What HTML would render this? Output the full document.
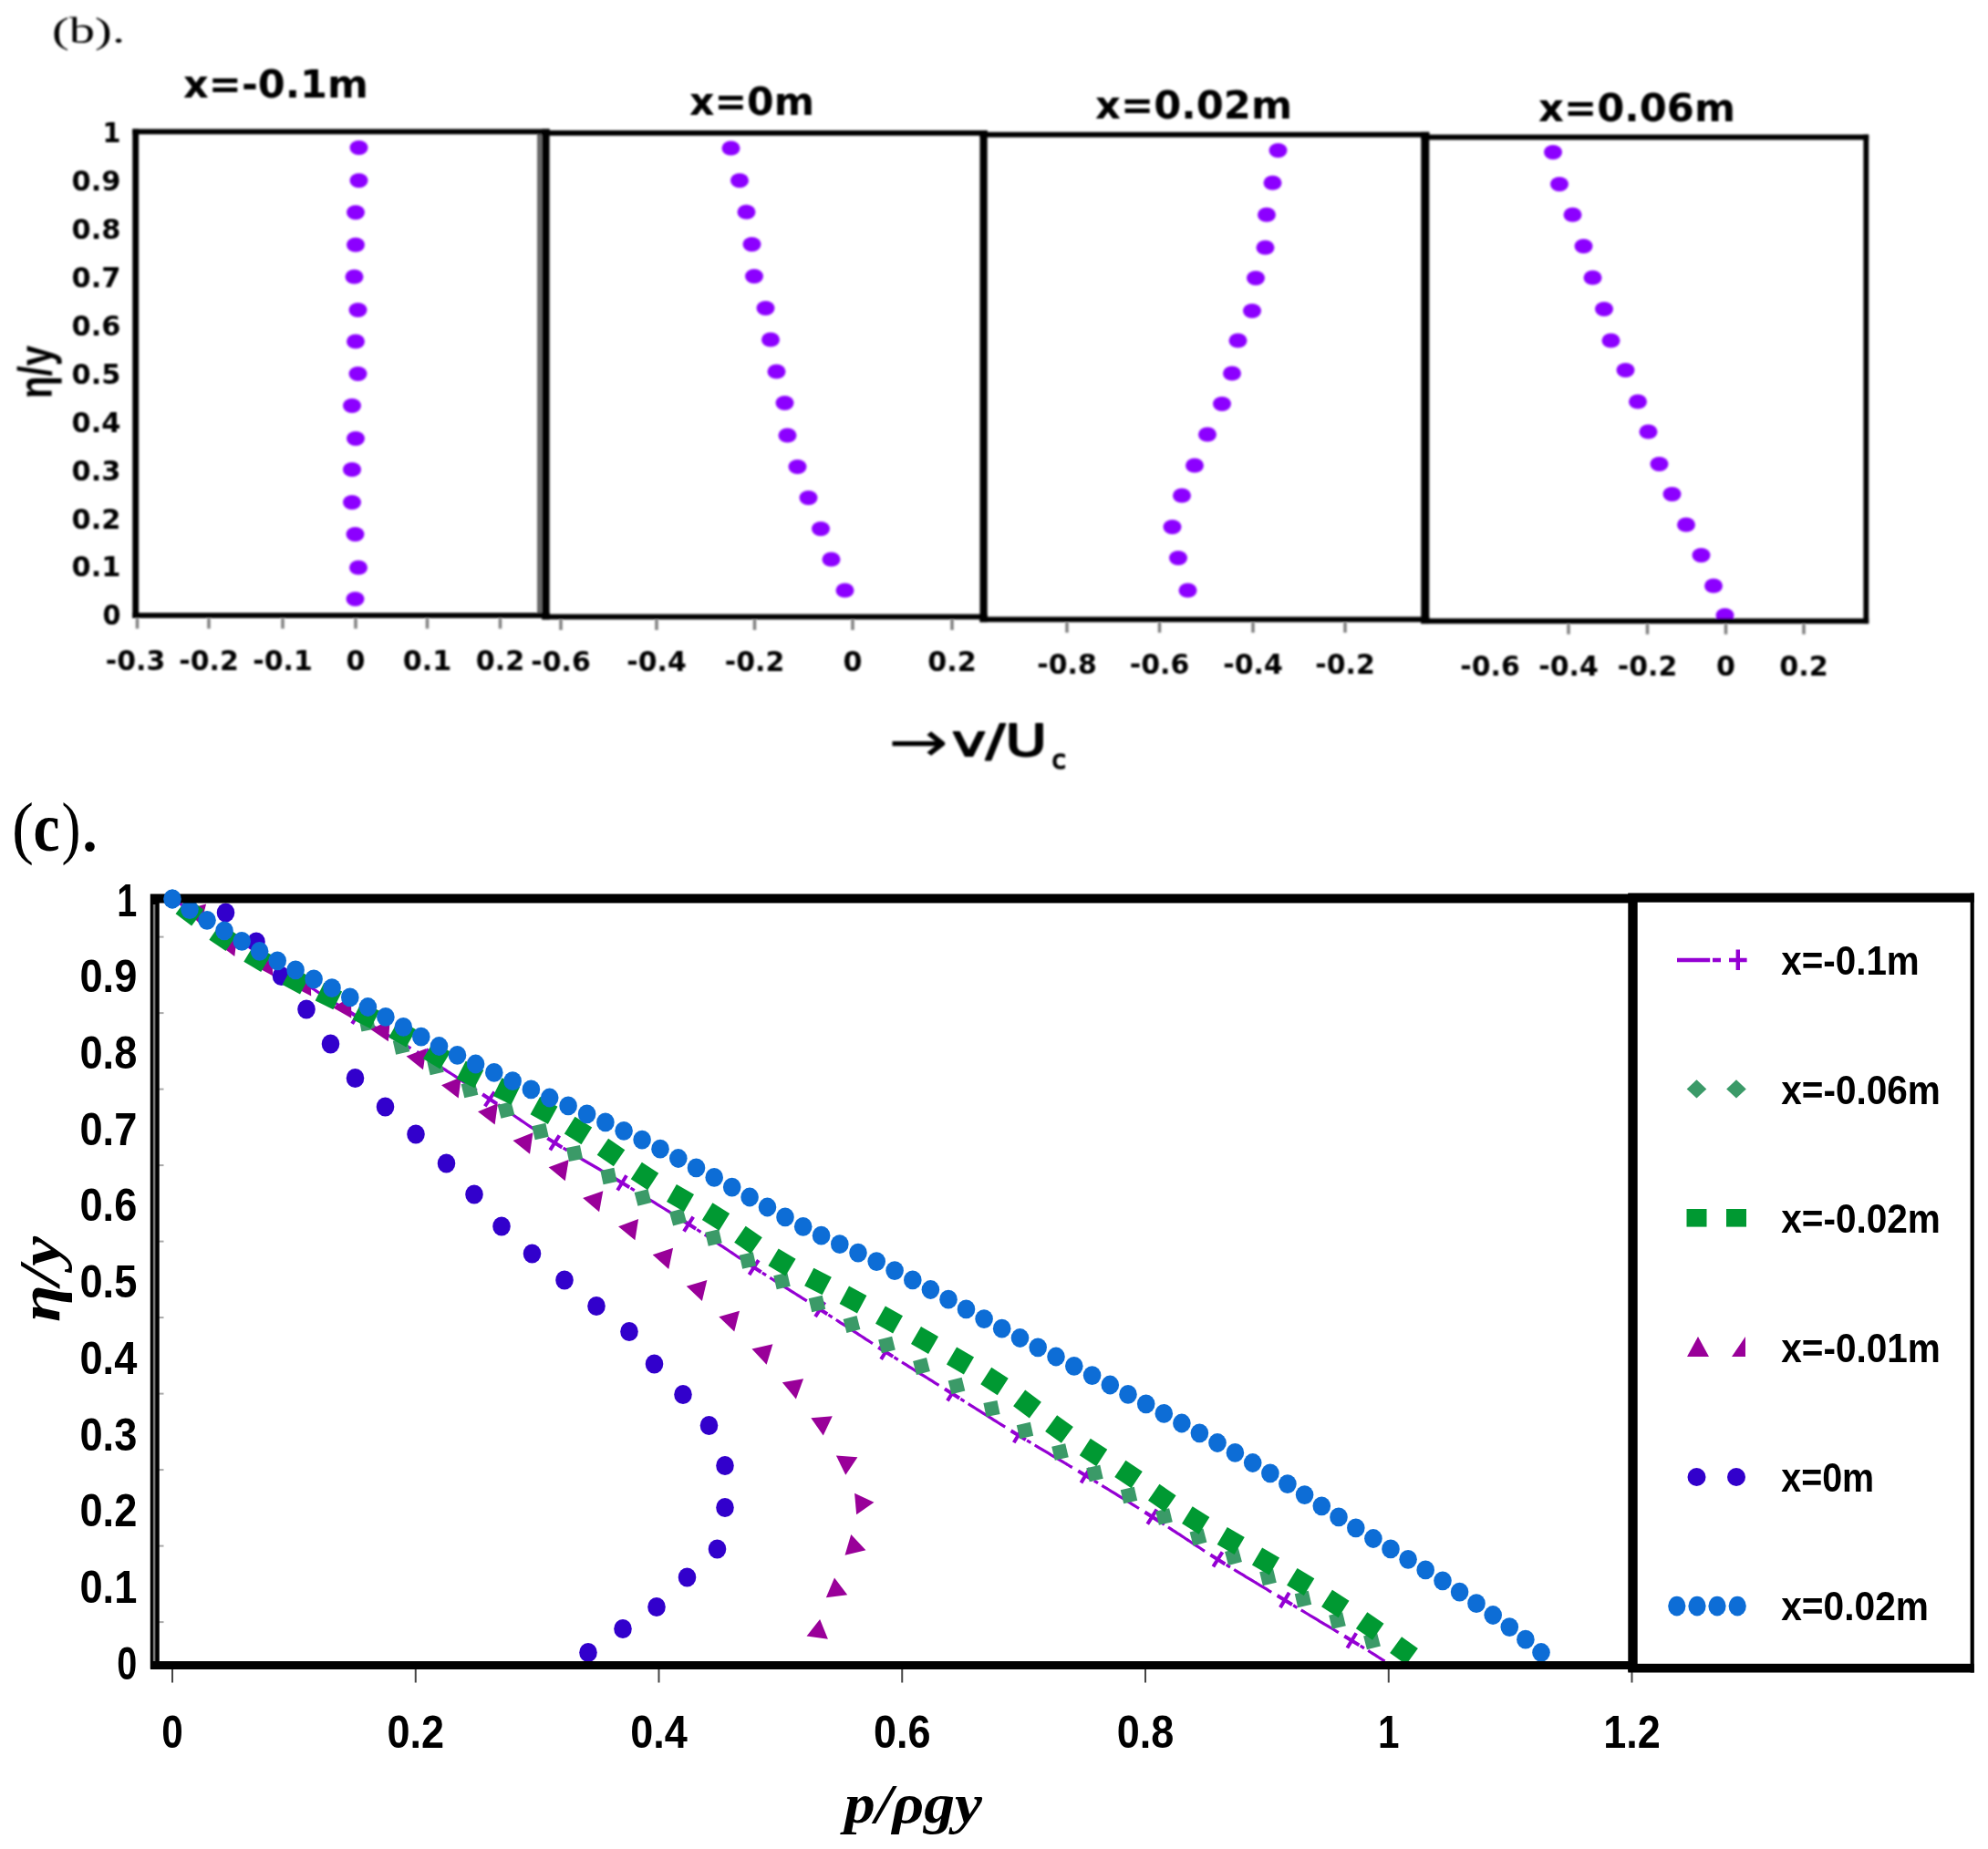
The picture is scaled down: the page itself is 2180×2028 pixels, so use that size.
<!DOCTYPE html>
<html><head><meta charset="utf-8"><title>Figure</title>
<style>html,body{margin:0;padding:0;background:#fff}svg{display:block}</style></head>
<body><svg width="2180" height="2028" viewBox="0 0 2180 2028">
<defs><filter id="blur1" x="-2%" y="-2%" width="104%" height="104%"><feGaussianBlur stdDeviation="1.2"/></filter><filter id="blur2" x="-2%" y="-2%" width="104%" height="104%"><feGaussianBlur stdDeviation="0.55"/></filter></defs>
<rect width="2180" height="2028" fill="#fff"/>
<g id="partb" filter="url(#blur1)">
<text x="57" y="46.5" font-family='"Liberation Serif", serif' font-size="40" font-weight="normal" font-style="normal" text-anchor="start" fill="#000" textLength="80" lengthAdjust="spacingAndGlyphs">(b).</text>
<ellipse cx="393.5" cy="162" rx="10" ry="8" fill="#8c00ff"/>
<ellipse cx="393.5" cy="198" rx="10" ry="8" fill="#8c00ff"/>
<ellipse cx="390" cy="233" rx="10" ry="8" fill="#8c00ff"/>
<ellipse cx="390" cy="268.5" rx="10" ry="8" fill="#8c00ff"/>
<ellipse cx="388.5" cy="303.5" rx="10" ry="8" fill="#8c00ff"/>
<ellipse cx="392.5" cy="340" rx="10" ry="8" fill="#8c00ff"/>
<ellipse cx="390" cy="374.5" rx="10" ry="8" fill="#8c00ff"/>
<ellipse cx="392.5" cy="410" rx="10" ry="8" fill="#8c00ff"/>
<ellipse cx="386" cy="445" rx="10" ry="8" fill="#8c00ff"/>
<ellipse cx="390" cy="481" rx="10" ry="8" fill="#8c00ff"/>
<ellipse cx="386" cy="515" rx="10" ry="8" fill="#8c00ff"/>
<ellipse cx="386" cy="551" rx="10" ry="8" fill="#8c00ff"/>
<ellipse cx="389.5" cy="586" rx="10" ry="8" fill="#8c00ff"/>
<ellipse cx="393" cy="622.5" rx="10" ry="8" fill="#8c00ff"/>
<ellipse cx="389.5" cy="657" rx="10" ry="8" fill="#8c00ff"/>
<ellipse cx="801.5" cy="162.5" rx="10" ry="8" fill="#8c00ff"/>
<ellipse cx="811" cy="198" rx="10" ry="8" fill="#8c00ff"/>
<ellipse cx="818.5" cy="232.5" rx="10" ry="8" fill="#8c00ff"/>
<ellipse cx="824.5" cy="268" rx="10" ry="8" fill="#8c00ff"/>
<ellipse cx="827" cy="303" rx="10" ry="8" fill="#8c00ff"/>
<ellipse cx="839.5" cy="338" rx="10" ry="8" fill="#8c00ff"/>
<ellipse cx="845" cy="372.5" rx="10" ry="8" fill="#8c00ff"/>
<ellipse cx="851.5" cy="407.5" rx="10" ry="8" fill="#8c00ff"/>
<ellipse cx="860.5" cy="442" rx="10" ry="8" fill="#8c00ff"/>
<ellipse cx="863.5" cy="477.5" rx="10" ry="8" fill="#8c00ff"/>
<ellipse cx="874.5" cy="512" rx="10" ry="8" fill="#8c00ff"/>
<ellipse cx="886.5" cy="546" rx="10" ry="8" fill="#8c00ff"/>
<ellipse cx="900" cy="580" rx="10" ry="8" fill="#8c00ff"/>
<ellipse cx="911.5" cy="613.5" rx="10" ry="8" fill="#8c00ff"/>
<ellipse cx="926.5" cy="647.5" rx="10" ry="8" fill="#8c00ff"/>
<ellipse cx="1401.5" cy="165" rx="10" ry="8" fill="#8c00ff"/>
<ellipse cx="1395.5" cy="200.5" rx="10" ry="8" fill="#8c00ff"/>
<ellipse cx="1389" cy="235.5" rx="10" ry="8" fill="#8c00ff"/>
<ellipse cx="1387.5" cy="271.5" rx="10" ry="8" fill="#8c00ff"/>
<ellipse cx="1377" cy="305" rx="10" ry="8" fill="#8c00ff"/>
<ellipse cx="1373" cy="341" rx="10" ry="8" fill="#8c00ff"/>
<ellipse cx="1357.5" cy="373.5" rx="10" ry="8" fill="#8c00ff"/>
<ellipse cx="1351" cy="409.5" rx="10" ry="8" fill="#8c00ff"/>
<ellipse cx="1340" cy="443" rx="10" ry="8" fill="#8c00ff"/>
<ellipse cx="1324" cy="476.5" rx="10" ry="8" fill="#8c00ff"/>
<ellipse cx="1310" cy="510.5" rx="10" ry="8" fill="#8c00ff"/>
<ellipse cx="1296" cy="543.5" rx="10" ry="8" fill="#8c00ff"/>
<ellipse cx="1285.5" cy="578" rx="10" ry="8" fill="#8c00ff"/>
<ellipse cx="1292" cy="612" rx="10" ry="8" fill="#8c00ff"/>
<ellipse cx="1302.5" cy="647.5" rx="10" ry="8" fill="#8c00ff"/>
<ellipse cx="1703" cy="167" rx="10" ry="8" fill="#8c00ff"/>
<ellipse cx="1710" cy="202" rx="10" ry="8" fill="#8c00ff"/>
<ellipse cx="1724.5" cy="235.5" rx="10" ry="8" fill="#8c00ff"/>
<ellipse cx="1736.5" cy="270" rx="10" ry="8" fill="#8c00ff"/>
<ellipse cx="1746.5" cy="304.5" rx="10" ry="8" fill="#8c00ff"/>
<ellipse cx="1759" cy="339" rx="10" ry="8" fill="#8c00ff"/>
<ellipse cx="1766.5" cy="373.5" rx="10" ry="8" fill="#8c00ff"/>
<ellipse cx="1782.5" cy="406" rx="10" ry="8" fill="#8c00ff"/>
<ellipse cx="1796" cy="440.5" rx="10" ry="8" fill="#8c00ff"/>
<ellipse cx="1807.5" cy="473.5" rx="10" ry="8" fill="#8c00ff"/>
<ellipse cx="1819.5" cy="509" rx="10" ry="8" fill="#8c00ff"/>
<ellipse cx="1833.5" cy="542" rx="10" ry="8" fill="#8c00ff"/>
<ellipse cx="1849" cy="575.5" rx="10" ry="8" fill="#8c00ff"/>
<ellipse cx="1865.5" cy="609" rx="10" ry="8" fill="#8c00ff"/>
<ellipse cx="1879" cy="642.5" rx="10" ry="8" fill="#8c00ff"/>
<ellipse cx="1891.5" cy="675" rx="10" ry="8" fill="#8c00ff"/>
<rect x="589" y="144" width="5.6" height="532" fill="#686868"/>
<rect x="145.3" y="141.5" width="457.3" height="5.8" fill="#000"/>
<rect x="145.3" y="672.1" width="457.3" height="5.8" fill="#000"/>
<rect x="594.3" y="143.0" width="488.4000000000001" height="5.8" fill="#000"/>
<rect x="594.3" y="673.6" width="488.4000000000001" height="5.8" fill="#000"/>
<rect x="1074.5" y="144.79999999999998" width="492.79999999999995" height="5.8" fill="#000"/>
<rect x="1074.5" y="676.5" width="492.79999999999995" height="5.8" fill="#000"/>
<rect x="1558.3" y="147.6" width="490.89999999999986" height="5.8" fill="#000"/>
<rect x="1558.3" y="678.3000000000001" width="490.89999999999986" height="5.8" fill="#000"/>
<rect x="145.3" y="141.5" width="6.799999999999983" height="536.4" fill="#000"/>
<rect x="594.3" y="141.5" width="8.300000000000068" height="537.9" fill="#000"/>
<rect x="1074.5" y="143.0" width="8.200000000000045" height="539.3" fill="#000"/>
<rect x="1558.3" y="144.79999999999998" width="9.0" height="539.3" fill="#000"/>
<rect x="2043.4" y="147.6" width="5.799999999999727" height="536.5" fill="#000"/>
<text x="201" y="106.5" font-family='"DejaVu Sans", "Liberation Sans", sans-serif' font-size="42" font-weight="bold" font-style="normal" text-anchor="start" fill="#000" textLength="203" lengthAdjust="spacingAndGlyphs">x=-0.1m</text>
<text x="756" y="126" font-family='"DejaVu Sans", "Liberation Sans", sans-serif' font-size="42" font-weight="bold" font-style="normal" text-anchor="start" fill="#000" textLength="137" lengthAdjust="spacingAndGlyphs">x=0m</text>
<text x="1201" y="130" font-family='"DejaVu Sans", "Liberation Sans", sans-serif' font-size="42" font-weight="bold" font-style="normal" text-anchor="start" fill="#000" textLength="216" lengthAdjust="spacingAndGlyphs">x=0.02m</text>
<text x="1687" y="132.5" font-family='"DejaVu Sans", "Liberation Sans", sans-serif' font-size="42" font-weight="bold" font-style="normal" text-anchor="start" fill="#000" textLength="216" lengthAdjust="spacingAndGlyphs">x=0.06m</text>
<text x="132.5" y="156.3" font-family='"DejaVu Sans", "Liberation Sans", sans-serif' font-size="30" font-weight="bold" font-style="normal" text-anchor="end" fill="#000" textLength="20" lengthAdjust="spacingAndGlyphs">1</text>
<text x="132.5" y="209.20000000000002" font-family='"DejaVu Sans", "Liberation Sans", sans-serif' font-size="30" font-weight="bold" font-style="normal" text-anchor="end" fill="#000" textLength="54" lengthAdjust="spacingAndGlyphs">0.9</text>
<text x="132.5" y="262.1" font-family='"DejaVu Sans", "Liberation Sans", sans-serif' font-size="30" font-weight="bold" font-style="normal" text-anchor="end" fill="#000" textLength="54" lengthAdjust="spacingAndGlyphs">0.8</text>
<text x="132.5" y="315.0" font-family='"DejaVu Sans", "Liberation Sans", sans-serif' font-size="30" font-weight="bold" font-style="normal" text-anchor="end" fill="#000" textLength="54" lengthAdjust="spacingAndGlyphs">0.7</text>
<text x="132.5" y="367.9" font-family='"DejaVu Sans", "Liberation Sans", sans-serif' font-size="30" font-weight="bold" font-style="normal" text-anchor="end" fill="#000" textLength="54" lengthAdjust="spacingAndGlyphs">0.6</text>
<text x="132.5" y="420.8" font-family='"DejaVu Sans", "Liberation Sans", sans-serif' font-size="30" font-weight="bold" font-style="normal" text-anchor="end" fill="#000" textLength="54" lengthAdjust="spacingAndGlyphs">0.5</text>
<text x="132.5" y="473.7" font-family='"DejaVu Sans", "Liberation Sans", sans-serif' font-size="30" font-weight="bold" font-style="normal" text-anchor="end" fill="#000" textLength="54" lengthAdjust="spacingAndGlyphs">0.4</text>
<text x="132.5" y="526.6" font-family='"DejaVu Sans", "Liberation Sans", sans-serif' font-size="30" font-weight="bold" font-style="normal" text-anchor="end" fill="#000" textLength="54" lengthAdjust="spacingAndGlyphs">0.3</text>
<text x="132.5" y="579.5" font-family='"DejaVu Sans", "Liberation Sans", sans-serif' font-size="30" font-weight="bold" font-style="normal" text-anchor="end" fill="#000" textLength="54" lengthAdjust="spacingAndGlyphs">0.2</text>
<text x="132.5" y="632.4" font-family='"DejaVu Sans", "Liberation Sans", sans-serif' font-size="30" font-weight="bold" font-style="normal" text-anchor="end" fill="#000" textLength="54" lengthAdjust="spacingAndGlyphs">0.1</text>
<text x="132.5" y="685.3" font-family='"DejaVu Sans", "Liberation Sans", sans-serif' font-size="30" font-weight="bold" font-style="normal" text-anchor="end" fill="#000" textLength="20" lengthAdjust="spacingAndGlyphs">0</text>
<g transform="translate(56.6,408) rotate(-90)">
<text x="0" y="0" font-family='"Liberation Sans", sans-serif' font-size="52" font-weight="bold" font-style="normal" text-anchor="middle" fill="#000" textLength="58" lengthAdjust="spacingAndGlyphs">η/y</text>
</g>
<text x="148.5" y="735" font-family='"DejaVu Sans", "Liberation Sans", sans-serif' font-size="30" font-weight="bold" font-style="normal" text-anchor="middle" fill="#000" textLength="65.5" lengthAdjust="spacingAndGlyphs">-0.3</text>
<rect x="148.75" y="678.5" width="3.5" height="11" fill="#808080"/>
<text x="229" y="735" font-family='"DejaVu Sans", "Liberation Sans", sans-serif' font-size="30" font-weight="bold" font-style="normal" text-anchor="middle" fill="#000" textLength="65.5" lengthAdjust="spacingAndGlyphs">-0.2</text>
<rect x="227.25" y="678.5" width="3.5" height="11" fill="#808080"/>
<text x="310" y="735" font-family='"DejaVu Sans", "Liberation Sans", sans-serif' font-size="30" font-weight="bold" font-style="normal" text-anchor="middle" fill="#000" textLength="65.5" lengthAdjust="spacingAndGlyphs">-0.1</text>
<rect x="308.25" y="678.5" width="3.5" height="11" fill="#808080"/>
<text x="390" y="735" font-family='"DejaVu Sans", "Liberation Sans", sans-serif' font-size="30" font-weight="bold" font-style="normal" text-anchor="middle" fill="#000" textLength="21" lengthAdjust="spacingAndGlyphs">0</text>
<rect x="388.25" y="678.5" width="3.5" height="11" fill="#808080"/>
<text x="468.5" y="735" font-family='"DejaVu Sans", "Liberation Sans", sans-serif' font-size="30" font-weight="bold" font-style="normal" text-anchor="middle" fill="#000" textLength="53.5" lengthAdjust="spacingAndGlyphs">0.1</text>
<rect x="466.75" y="678.5" width="3.5" height="11" fill="#808080"/>
<text x="548.5" y="735" font-family='"DejaVu Sans", "Liberation Sans", sans-serif' font-size="30" font-weight="bold" font-style="normal" text-anchor="middle" fill="#000" textLength="53.5" lengthAdjust="spacingAndGlyphs">0.2</text>
<rect x="546.75" y="678.5" width="3.5" height="11" fill="#808080"/>
<text x="615" y="736" font-family='"DejaVu Sans", "Liberation Sans", sans-serif' font-size="30" font-weight="bold" font-style="normal" text-anchor="middle" fill="#000" textLength="65.5" lengthAdjust="spacingAndGlyphs">-0.6</text>
<rect x="613.25" y="680.0" width="3.5" height="11" fill="#808080"/>
<text x="720" y="736" font-family='"DejaVu Sans", "Liberation Sans", sans-serif' font-size="30" font-weight="bold" font-style="normal" text-anchor="middle" fill="#000" textLength="65.5" lengthAdjust="spacingAndGlyphs">-0.4</text>
<rect x="718.25" y="680.0" width="3.5" height="11" fill="#808080"/>
<text x="827.5" y="736" font-family='"DejaVu Sans", "Liberation Sans", sans-serif' font-size="30" font-weight="bold" font-style="normal" text-anchor="middle" fill="#000" textLength="65.5" lengthAdjust="spacingAndGlyphs">-0.2</text>
<rect x="825.75" y="680.0" width="3.5" height="11" fill="#808080"/>
<text x="935" y="736" font-family='"DejaVu Sans", "Liberation Sans", sans-serif' font-size="30" font-weight="bold" font-style="normal" text-anchor="middle" fill="#000" textLength="21" lengthAdjust="spacingAndGlyphs">0</text>
<rect x="933.25" y="680.0" width="3.5" height="11" fill="#808080"/>
<text x="1044" y="736" font-family='"DejaVu Sans", "Liberation Sans", sans-serif' font-size="30" font-weight="bold" font-style="normal" text-anchor="middle" fill="#000" textLength="53.5" lengthAdjust="spacingAndGlyphs">0.2</text>
<rect x="1042.25" y="680.0" width="3.5" height="11" fill="#808080"/>
<text x="1170" y="739" font-family='"DejaVu Sans", "Liberation Sans", sans-serif' font-size="30" font-weight="bold" font-style="normal" text-anchor="middle" fill="#000" textLength="65.5" lengthAdjust="spacingAndGlyphs">-0.8</text>
<rect x="1168.25" y="682.9" width="3.5" height="11" fill="#808080"/>
<text x="1271.5" y="739" font-family='"DejaVu Sans", "Liberation Sans", sans-serif' font-size="30" font-weight="bold" font-style="normal" text-anchor="middle" fill="#000" textLength="65.5" lengthAdjust="spacingAndGlyphs">-0.6</text>
<rect x="1269.75" y="682.9" width="3.5" height="11" fill="#808080"/>
<text x="1374" y="739" font-family='"DejaVu Sans", "Liberation Sans", sans-serif' font-size="30" font-weight="bold" font-style="normal" text-anchor="middle" fill="#000" textLength="65.5" lengthAdjust="spacingAndGlyphs">-0.4</text>
<rect x="1372.25" y="682.9" width="3.5" height="11" fill="#808080"/>
<text x="1475" y="739" font-family='"DejaVu Sans", "Liberation Sans", sans-serif' font-size="30" font-weight="bold" font-style="normal" text-anchor="middle" fill="#000" textLength="65.5" lengthAdjust="spacingAndGlyphs">-0.2</text>
<rect x="1473.25" y="682.9" width="3.5" height="11" fill="#808080"/>
<text x="1634" y="740.5" font-family='"DejaVu Sans", "Liberation Sans", sans-serif' font-size="30" font-weight="bold" font-style="normal" text-anchor="middle" fill="#000" textLength="65.5" lengthAdjust="spacingAndGlyphs">-0.6</text>
<text x="1720" y="740.5" font-family='"DejaVu Sans", "Liberation Sans", sans-serif' font-size="30" font-weight="bold" font-style="normal" text-anchor="middle" fill="#000" textLength="65.5" lengthAdjust="spacingAndGlyphs">-0.4</text>
<rect x="1718.25" y="684.7" width="3.5" height="11" fill="#808080"/>
<text x="1806.5" y="740.5" font-family='"DejaVu Sans", "Liberation Sans", sans-serif' font-size="30" font-weight="bold" font-style="normal" text-anchor="middle" fill="#000" textLength="65.5" lengthAdjust="spacingAndGlyphs">-0.2</text>
<rect x="1804.75" y="684.7" width="3.5" height="11" fill="#808080"/>
<text x="1892.5" y="740.5" font-family='"DejaVu Sans", "Liberation Sans", sans-serif' font-size="30" font-weight="bold" font-style="normal" text-anchor="middle" fill="#000" textLength="21" lengthAdjust="spacingAndGlyphs">0</text>
<rect x="1890.75" y="684.7" width="3.5" height="11" fill="#808080"/>
<text x="1978" y="740.5" font-family='"DejaVu Sans", "Liberation Sans", sans-serif' font-size="30" font-weight="bold" font-style="normal" text-anchor="middle" fill="#000" textLength="53.5" lengthAdjust="spacingAndGlyphs">0.2</text>
<rect x="1976.25" y="684.7" width="3.5" height="11" fill="#808080"/>
<text x="974" y="834.5" font-family='"DejaVu Sans", "Liberation Sans", sans-serif' font-size="62" font-weight="normal" font-style="normal" text-anchor="start" fill="#000" textLength="66" lengthAdjust="spacingAndGlyphs">→</text>
<text x="1044" y="829" font-family='"DejaVu Sans", "Liberation Sans", sans-serif' font-size="48" font-weight="normal" font-style="normal" text-anchor="start" fill="#000" textLength="104" lengthAdjust="spacingAndGlyphs" stroke="#000" stroke-width="1.9" stroke-linejoin="round">v/U</text>
<text x="1153.5" y="843" font-family='"DejaVu Sans", "Liberation Sans", sans-serif' font-size="29" font-weight="normal" font-style="normal" text-anchor="start" fill="#000" textLength="15.5" lengthAdjust="spacingAndGlyphs" stroke="#000" stroke-width="1.6" stroke-linejoin="round">c</text>
</g>
<g id="partc" filter="url(#blur2)">
<text x="13" y="932.5" font-family='"Liberation Serif", serif' font-size="76" font-weight="normal" font-style="normal" text-anchor="start" fill="#000" textLength="24" lengthAdjust="spacingAndGlyphs">(</text>
<text x="36.5" y="932.5" font-family='"Liberation Serif", serif' font-size="76" font-weight="bold" font-style="normal" text-anchor="start" fill="#000" textLength="29" lengthAdjust="spacingAndGlyphs">c</text>
<text x="67.5" y="932.5" font-family='"Liberation Serif", serif' font-size="76" font-weight="normal" font-style="normal" text-anchor="start" fill="#000" textLength="21" lengthAdjust="spacingAndGlyphs">)</text>
<text x="87.3" y="932.5" font-family='"Liberation Serif", serif' font-size="90" font-weight="normal" font-style="normal" text-anchor="start" fill="#000">.</text>
<text x="150.3" y="1004.6" font-family='"Liberation Sans", sans-serif' font-size="50" font-weight="bold" font-style="normal" text-anchor="end" fill="#000" textLength="22" lengthAdjust="spacingAndGlyphs">1</text>
<text x="150.3" y="1088.3" font-family='"Liberation Sans", sans-serif' font-size="50" font-weight="bold" font-style="normal" text-anchor="end" fill="#000" textLength="62.8" lengthAdjust="spacingAndGlyphs">0.9</text>
<text x="150.3" y="1172.0" font-family='"Liberation Sans", sans-serif' font-size="50" font-weight="bold" font-style="normal" text-anchor="end" fill="#000" textLength="62.8" lengthAdjust="spacingAndGlyphs">0.8</text>
<text x="150.3" y="1255.7" font-family='"Liberation Sans", sans-serif' font-size="50" font-weight="bold" font-style="normal" text-anchor="end" fill="#000" textLength="62.8" lengthAdjust="spacingAndGlyphs">0.7</text>
<text x="150.3" y="1339.4" font-family='"Liberation Sans", sans-serif' font-size="50" font-weight="bold" font-style="normal" text-anchor="end" fill="#000" textLength="62.8" lengthAdjust="spacingAndGlyphs">0.6</text>
<text x="150.3" y="1423.1" font-family='"Liberation Sans", sans-serif' font-size="50" font-weight="bold" font-style="normal" text-anchor="end" fill="#000" textLength="62.8" lengthAdjust="spacingAndGlyphs">0.5</text>
<text x="150.3" y="1506.8000000000002" font-family='"Liberation Sans", sans-serif' font-size="50" font-weight="bold" font-style="normal" text-anchor="end" fill="#000" textLength="62.8" lengthAdjust="spacingAndGlyphs">0.4</text>
<text x="150.3" y="1590.5" font-family='"Liberation Sans", sans-serif' font-size="50" font-weight="bold" font-style="normal" text-anchor="end" fill="#000" textLength="62.8" lengthAdjust="spacingAndGlyphs">0.3</text>
<text x="150.3" y="1674.2" font-family='"Liberation Sans", sans-serif' font-size="50" font-weight="bold" font-style="normal" text-anchor="end" fill="#000" textLength="62.8" lengthAdjust="spacingAndGlyphs">0.2</text>
<text x="150.3" y="1757.9" font-family='"Liberation Sans", sans-serif' font-size="50" font-weight="bold" font-style="normal" text-anchor="end" fill="#000" textLength="62.8" lengthAdjust="spacingAndGlyphs">0.1</text>
<text x="150.3" y="1841.6" font-family='"Liberation Sans", sans-serif' font-size="50" font-weight="bold" font-style="normal" text-anchor="end" fill="#000" textLength="22" lengthAdjust="spacingAndGlyphs">0</text>
<text x="189.0" y="1916.7" font-family='"Liberation Sans", sans-serif' font-size="50" font-weight="bold" font-style="normal" text-anchor="middle" fill="#000" textLength="23.5" lengthAdjust="spacingAndGlyphs">0</text>
<rect x="188.0" y="1830" width="2" height="15.5" fill="#444"/>
<text x="455.75" y="1916.7" font-family='"Liberation Sans", sans-serif' font-size="50" font-weight="bold" font-style="normal" text-anchor="middle" fill="#000" textLength="62.6" lengthAdjust="spacingAndGlyphs">0.2</text>
<rect x="454.75" y="1830" width="2" height="15.5" fill="#444"/>
<text x="722.5" y="1916.7" font-family='"Liberation Sans", sans-serif' font-size="50" font-weight="bold" font-style="normal" text-anchor="middle" fill="#000" textLength="62.6" lengthAdjust="spacingAndGlyphs">0.4</text>
<rect x="721.5" y="1830" width="2" height="15.5" fill="#444"/>
<text x="989.25" y="1916.7" font-family='"Liberation Sans", sans-serif' font-size="50" font-weight="bold" font-style="normal" text-anchor="middle" fill="#000" textLength="62.6" lengthAdjust="spacingAndGlyphs">0.6</text>
<rect x="988.25" y="1830" width="2" height="15.5" fill="#444"/>
<text x="1256.0" y="1916.7" font-family='"Liberation Sans", sans-serif' font-size="50" font-weight="bold" font-style="normal" text-anchor="middle" fill="#000" textLength="62.6" lengthAdjust="spacingAndGlyphs">0.8</text>
<rect x="1255.0" y="1830" width="2" height="15.5" fill="#444"/>
<text x="1522.75" y="1916.7" font-family='"Liberation Sans", sans-serif' font-size="50" font-weight="bold" font-style="normal" text-anchor="middle" fill="#000" textLength="23.5" lengthAdjust="spacingAndGlyphs">1</text>
<rect x="1521.75" y="1830" width="2" height="15.5" fill="#444"/>
<text x="1789.5" y="1916.7" font-family='"Liberation Sans", sans-serif' font-size="50" font-weight="bold" font-style="normal" text-anchor="middle" fill="#000" textLength="62.6" lengthAdjust="spacingAndGlyphs">1.2</text>
<rect x="1788.5" y="1830" width="2" height="15.5" fill="#444"/>
<rect x="174" y="1026.6" width="5.5" height="2" fill="#aaa"/>
<rect x="174" y="1110.1" width="5.5" height="2" fill="#aaa"/>
<rect x="174" y="1193.6" width="5.5" height="2" fill="#aaa"/>
<rect x="174" y="1277.1" width="5.5" height="2" fill="#aaa"/>
<rect x="174" y="1360.6" width="5.5" height="2" fill="#aaa"/>
<rect x="174" y="1444.1" width="5.5" height="2" fill="#aaa"/>
<rect x="174" y="1527.6" width="5.5" height="2" fill="#aaa"/>
<rect x="174" y="1611.1" width="5.5" height="2" fill="#aaa"/>
<rect x="174" y="1694.6" width="5.5" height="2" fill="#aaa"/>
<rect x="174" y="1778.1" width="5.5" height="2" fill="#aaa"/>
<g transform="translate(65,1403) rotate(-90)">
<text x="0" y="0" font-family='"Liberation Serif", serif' font-size="63" font-weight="bold" font-style="italic" text-anchor="middle" fill="#000" textLength="94" lengthAdjust="spacingAndGlyphs">η/y</text>
</g>
<text x="1001.5" y="1999.4" font-family='"Liberation Serif", serif' font-size="61" font-weight="bold" font-style="italic" text-anchor="middle" fill="#000" textLength="151" lengthAdjust="spacingAndGlyphs">p/ρgy</text>
<path d="M191.6,987.6 L194.2,989.2 L196.7,990.7 L199.3,992.3 L201.9,993.8 L204.4,995.4 L207.0,996.9 L209.6,998.5 L212.1,1000.0 L214.7,1001.6 L217.3,1003.2 L219.8,1004.7 L222.4,1006.3 L225.0,1007.8 L227.5,1009.4 L230.1,1011.0 L232.5,1012.5 M256.1,1027.5 L258.6,1029.2 L260.3,1030.3 M264.5,1033.0 L267.0,1034.7 L269.5,1036.3 L272.0,1038.0 L274.5,1039.6 L277.0,1041.3 L279.5,1043.0 L282.0,1044.6 L284.5,1046.3 L287.0,1047.9 L289.5,1049.6 L292.0,1051.3 L294.5,1052.9 L297.0,1054.6 L299.5,1056.2 L302.0,1057.9 L304.4,1059.5 M327.9,1074.7 L330.4,1076.4 L332.1,1077.5 M336.3,1080.2 L338.8,1081.8 L341.3,1083.4 L343.9,1085.0 L346.4,1086.6 L348.9,1088.3 L351.4,1089.9 L354.0,1091.5 L356.5,1093.1 L359.0,1094.7 L361.6,1096.3 L364.1,1097.9 L366.6,1099.5 L369.2,1101.1 L371.7,1102.7 L374.3,1104.3 L376.7,1105.9 M400.5,1120.5 L403.1,1122.1 L404.8,1123.1 M409.1,1125.7 L411.7,1127.2 L414.3,1128.7 L416.9,1130.2 L419.5,1131.7 L422.1,1133.2 L424.7,1134.8 L427.3,1136.3 L429.9,1137.8 L432.5,1139.3 L435.0,1140.8 L437.6,1142.3 L440.2,1143.8 L442.8,1145.3 L445.4,1146.9 L448.0,1148.4 L450.5,1149.9 M474.3,1164.5 L476.8,1166.1 L478.5,1167.2 M482.7,1169.9 L485.3,1171.5 L487.8,1173.1 L490.3,1174.8 L492.8,1176.4 L495.3,1178.0 L497.9,1179.7 L500.4,1181.3 L502.9,1183.0 L505.4,1184.6 L507.9,1186.3 L510.4,1187.9 L512.9,1189.6 L515.4,1191.2 L517.9,1192.9 L520.4,1194.5 L522.8,1196.1 M546.1,1211.6 L548.6,1213.3 L550.3,1214.4 M554.4,1217.2 L556.9,1218.9 L559.4,1220.6 L561.9,1222.3 L564.3,1224.0 L566.8,1225.7 L569.3,1227.4 L571.7,1229.1 L574.2,1230.8 L576.7,1232.5 L579.2,1234.2 L581.7,1235.9 L584.1,1237.5 L586.6,1239.2 L589.1,1240.9 L591.6,1242.5 L594.0,1244.1 M617.6,1259.2 L620.2,1260.7 L621.9,1261.8 M626.2,1264.3 L628.8,1265.9 L631.4,1267.4 L634.0,1268.9 L636.5,1270.5 L639.1,1272.0 L641.7,1273.5 L644.3,1275.0 L646.9,1276.5 L649.5,1278.0 L652.1,1279.5 L654.7,1281.0 L657.3,1282.5 L659.9,1284.0 L662.5,1285.6 L665.0,1287.1 L667.5,1288.5 M691.5,1303.0 L694.1,1304.6 L695.8,1305.6 M700.0,1308.2 L702.6,1309.8 L705.2,1311.3 L707.7,1312.9 L710.3,1314.5 L712.8,1316.1 L715.4,1317.6 L717.9,1319.2 L720.5,1320.8 L723.0,1322.4 L725.6,1324.0 L728.1,1325.5 L730.7,1327.1 L733.2,1328.7 L735.8,1330.3 L738.3,1331.9 L740.8,1333.4 M764.3,1348.5 L766.8,1350.2 L768.5,1351.3 M772.7,1354.1 L775.2,1355.7 L777.7,1357.4 L780.2,1359.1 L782.6,1360.7 L785.1,1362.4 L787.6,1364.1 L790.1,1365.8 L792.6,1367.4 L795.1,1369.1 L797.6,1370.8 L800.1,1372.5 L802.6,1374.1 L805.0,1375.8 L807.5,1377.5 L810.0,1379.1 L812.4,1380.7 M835.9,1396.0 L838.4,1397.6 L840.1,1398.7 M844.3,1401.4 L846.9,1403.0 L849.4,1404.6 L851.9,1406.2 L854.5,1407.8 L857.0,1409.4 L859.6,1411.0 L862.1,1412.6 L864.6,1414.2 L867.2,1415.8 L869.7,1417.4 L872.3,1419.0 L874.8,1420.6 L877.3,1422.2 L879.9,1423.8 L882.4,1425.4 L884.8,1426.9 M908.4,1442.0 L910.9,1443.7 L912.6,1444.8 M916.8,1447.5 L919.3,1449.1 L921.8,1450.8 L924.3,1452.4 L926.9,1454.0 L929.4,1455.7 L931.9,1457.3 L934.4,1459.0 L936.9,1460.6 L939.4,1462.2 L941.9,1463.9 L944.5,1465.5 L947.0,1467.1 L949.5,1468.8 L952.0,1470.4 L954.5,1472.0 L956.9,1473.6 M980.5,1488.7 L983.1,1490.3 L984.8,1491.4 M989.0,1494.0 L991.5,1495.6 L994.1,1497.2 L996.6,1498.8 L999.2,1500.4 L1001.7,1502.0 L1004.2,1503.6 L1006.8,1505.2 L1009.3,1506.8 L1011.9,1508.4 L1014.4,1509.9 L1017.0,1511.5 L1019.5,1513.1 L1022.1,1514.7 L1024.6,1516.3 L1027.1,1517.9 L1029.6,1519.4 M1053.3,1534.3 L1055.8,1535.9 L1057.5,1537.0 M1061.8,1539.7 L1064.3,1541.3 L1066.8,1542.9 L1069.4,1544.5 L1071.9,1546.1 L1074.4,1547.7 L1077.0,1549.3 L1079.5,1550.9 L1082.0,1552.5 L1084.6,1554.1 L1087.1,1555.7 L1089.6,1557.3 L1092.2,1558.9 L1094.7,1560.5 L1097.3,1562.1 L1099.8,1563.7 L1102.2,1565.2 M1126.1,1579.9 L1128.7,1581.4 L1130.4,1582.5 M1134.7,1585.0 L1137.3,1586.6 L1139.8,1588.1 L1142.4,1589.6 L1145.0,1591.2 L1147.6,1592.7 L1150.1,1594.2 L1152.7,1595.8 L1155.3,1597.3 L1157.9,1598.8 L1160.5,1600.4 L1163.0,1601.9 L1165.6,1603.4 L1168.2,1605.0 L1170.8,1606.5 L1173.3,1608.1 L1175.8,1609.5 M1199.8,1624.1 L1202.3,1625.6 L1204.0,1626.7 M1208.3,1629.3 L1210.8,1630.9 L1213.4,1632.4 L1216.0,1634.0 L1218.5,1635.6 L1221.1,1637.1 L1223.6,1638.7 L1226.2,1640.3 L1228.7,1641.9 L1231.3,1643.4 L1233.8,1645.0 L1236.4,1646.6 L1238.9,1648.2 L1241.5,1649.8 L1244.0,1651.4 L1246.6,1653.0 L1249.0,1654.5 M1272.6,1669.5 L1275.2,1671.1 L1276.8,1672.2 M1281.0,1675.0 L1283.5,1676.6 L1286.0,1678.3 L1288.5,1679.9 L1291.0,1681.6 L1293.6,1683.2 L1296.1,1684.9 L1298.6,1686.5 L1301.1,1688.2 L1303.6,1689.8 L1306.1,1691.5 L1308.6,1693.1 L1311.1,1694.8 L1313.6,1696.4 L1316.1,1698.0 L1318.6,1699.7 L1321.0,1701.3 M1344.7,1716.2 L1347.2,1717.8 L1349.0,1718.9 M1353.2,1721.5 L1355.8,1723.1 L1358.3,1724.6 L1360.9,1726.2 L1363.5,1727.7 L1366.0,1729.3 L1368.6,1730.8 L1371.2,1732.4 L1373.7,1733.9 L1376.3,1735.5 L1378.9,1737.0 L1381.4,1738.6 L1384.0,1740.1 L1386.6,1741.7 L1389.2,1743.2 L1391.7,1744.8 L1394.2,1746.3 M1418.2,1760.7 L1420.7,1762.3 L1422.5,1763.3 M1426.7,1765.9 L1429.3,1767.4 L1431.9,1769.0 L1434.4,1770.5 L1437.0,1772.1 L1439.6,1773.6 L1442.2,1775.2 L1444.7,1776.7 L1447.3,1778.3 L1449.9,1779.8 L1452.4,1781.4 L1455.0,1782.9 L1457.6,1784.4 L1460.2,1786.0 L1462.7,1787.5 L1465.3,1789.1 L1467.8,1790.6 M1491.7,1805.2 L1494.2,1806.7 L1495.9,1807.8 M1500.2,1810.4 L1502.7,1812.0 L1505.2,1813.6 L1507.8,1815.2 L1510.3,1816.8 L1512.8,1818.5 L1515.4,1820.0 L1517.9,1821.6 L1518.5,1822.0" fill="none" stroke="#9400d3" stroke-width="3.2"/>
<g transform="translate(246.9,1021.6) rotate(32.6)"><path d="M-9.5,0H9.5M0,-9.5V9.5" stroke="#9400d3" stroke-width="4" fill="none"/></g>
<g transform="translate(318.7,1068.8) rotate(32.9)"><path d="M-9.5,0H9.5M0,-9.5V9.5" stroke="#9400d3" stroke-width="4" fill="none"/></g>
<g transform="translate(391.1,1114.8) rotate(31.6)"><path d="M-9.5,0H9.5M0,-9.5V9.5" stroke="#9400d3" stroke-width="4" fill="none"/></g>
<g transform="translate(465.0,1158.7) rotate(31.8)"><path d="M-9.5,0H9.5M0,-9.5V9.5" stroke="#9400d3" stroke-width="4" fill="none"/></g>
<g transform="translate(537.0,1205.5) rotate(33.5)"><path d="M-9.5,0H9.5M0,-9.5V9.5" stroke="#9400d3" stroke-width="4" fill="none"/></g>
<g transform="translate(608.3,1253.4) rotate(32.3)"><path d="M-9.5,0H9.5M0,-9.5V9.5" stroke="#9400d3" stroke-width="4" fill="none"/></g>
<g transform="translate(682.1,1297.3) rotate(31.3)"><path d="M-9.5,0H9.5M0,-9.5V9.5" stroke="#9400d3" stroke-width="4" fill="none"/></g>
<g transform="translate(755.1,1342.6) rotate(32.7)"><path d="M-9.5,0H9.5M0,-9.5V9.5" stroke="#9400d3" stroke-width="4" fill="none"/></g>
<g transform="translate(826.7,1390.1) rotate(32.9)"><path d="M-9.5,0H9.5M0,-9.5V9.5" stroke="#9400d3" stroke-width="4" fill="none"/></g>
<g transform="translate(899.2,1436.1) rotate(32.7)"><path d="M-9.5,0H9.5M0,-9.5V9.5" stroke="#9400d3" stroke-width="4" fill="none"/></g>
<g transform="translate(971.2,1482.8) rotate(32.5)"><path d="M-9.5,0H9.5M0,-9.5V9.5" stroke="#9400d3" stroke-width="4" fill="none"/></g>
<g transform="translate(1044.0,1528.4) rotate(32.2)"><path d="M-9.5,0H9.5M0,-9.5V9.5" stroke="#9400d3" stroke-width="4" fill="none"/></g>
<g transform="translate(1116.7,1574.2) rotate(31.4)"><path d="M-9.5,0H9.5M0,-9.5V9.5" stroke="#9400d3" stroke-width="4" fill="none"/></g>
<g transform="translate(1190.4,1618.3) rotate(31.4)"><path d="M-9.5,0H9.5M0,-9.5V9.5" stroke="#9400d3" stroke-width="4" fill="none"/></g>
<g transform="translate(1263.4,1663.6) rotate(32.5)"><path d="M-9.5,0H9.5M0,-9.5V9.5" stroke="#9400d3" stroke-width="4" fill="none"/></g>
<g transform="translate(1335.4,1710.4) rotate(32.2)"><path d="M-9.5,0H9.5M0,-9.5V9.5" stroke="#9400d3" stroke-width="4" fill="none"/></g>
<g transform="translate(1408.8,1755.0) rotate(31.2)"><path d="M-9.5,0H9.5M0,-9.5V9.5" stroke="#9400d3" stroke-width="4" fill="none"/></g>
<g transform="translate(1482.3,1799.4) rotate(31.4)"><path d="M-9.5,0H9.5M0,-9.5V9.5" stroke="#9400d3" stroke-width="4" fill="none"/></g>
<rect x="-7.7" y="-7.7" width="15.4" height="15.4" fill="#3a9a68" transform="translate(402.5,1122.5) rotate(78.7)"/>
<rect x="-7.7" y="-7.7" width="15.4" height="15.4" fill="#3a9a68" transform="translate(440,1147.5) rotate(77.3)"/>
<rect x="-7.7" y="-7.7" width="15.4" height="15.4" fill="#3a9a68" transform="translate(477.5,1170) rotate(77.3)"/>
<rect x="-7.7" y="-7.7" width="15.4" height="15.4" fill="#3a9a68" transform="translate(515,1195) rotate(76.5)"/>
<rect x="-7.7" y="-7.7" width="15.4" height="15.4" fill="#3a9a68" transform="translate(555,1217.5) rotate(75.7)"/>
<rect x="-7.7" y="-7.7" width="15.4" height="15.4" fill="#3a9a68" transform="translate(592.5,1241) rotate(77.3)"/>
<rect x="-7.7" y="-7.7" width="15.4" height="15.4" fill="#3a9a68" transform="translate(630,1265) rotate(78.2)"/>
<rect x="-7.7" y="-7.7" width="15.4" height="15.4" fill="#3a9a68" transform="translate(667.5,1290) rotate(77.9)"/>
<rect x="-7.7" y="-7.7" width="15.4" height="15.4" fill="#3a9a68" transform="translate(705,1313.5) rotate(75.6)"/>
<rect x="-7.7" y="-7.7" width="15.4" height="15.4" fill="#3a9a68" transform="translate(743.5,1335) rotate(74.6)"/>
<rect x="-7.7" y="-7.7" width="15.4" height="15.4" fill="#3a9a68" transform="translate(782.5,1357.5) rotate(76.8)"/>
<rect x="-7.7" y="-7.7" width="15.4" height="15.4" fill="#3a9a68" transform="translate(820,1382.5) rotate(77.3)"/>
<rect x="-7.7" y="-7.7" width="15.4" height="15.4" fill="#3a9a68" transform="translate(857.5,1405) rotate(77.0)"/>
<rect x="-7.7" y="-7.7" width="15.4" height="15.4" fill="#3a9a68" transform="translate(896,1430) rotate(76.8)"/>
<rect x="-7.7" y="-7.7" width="15.4" height="15.4" fill="#3a9a68" transform="translate(934,1452.5) rotate(75.5)"/>
<rect x="-7.7" y="-7.7" width="15.4" height="15.4" fill="#3a9a68" transform="translate(972.5,1475) rotate(76.0)"/>
<rect x="-7.7" y="-7.7" width="15.4" height="15.4" fill="#3a9a68" transform="translate(1010.5,1498.5) rotate(75.5)"/>
<rect x="-7.7" y="-7.7" width="15.4" height="15.4" fill="#3a9a68" transform="translate(1049,1520) rotate(76.1)"/>
<rect x="-7.7" y="-7.7" width="15.4" height="15.4" fill="#3a9a68" transform="translate(1087.5,1545) rotate(78.2)"/>
<rect x="-7.7" y="-7.7" width="15.4" height="15.4" fill="#3a9a68" transform="translate(1124,1569) rotate(77.3)"/>
<rect x="-7.7" y="-7.7" width="15.4" height="15.4" fill="#3a9a68" transform="translate(1162.5,1592.5) rotate(76.6)"/>
<rect x="-7.7" y="-7.7" width="15.4" height="15.4" fill="#3a9a68" transform="translate(1200.5,1616) rotate(77.2)"/>
<rect x="-7.7" y="-7.7" width="15.4" height="15.4" fill="#3a9a68" transform="translate(1238,1640) rotate(77.0)"/>
<rect x="-7.7" y="-7.7" width="15.4" height="15.4" fill="#3a9a68" transform="translate(1276.5,1663.5) rotate(76.2)"/>
<rect x="-7.7" y="-7.7" width="15.4" height="15.4" fill="#3a9a68" transform="translate(1314,1686) rotate(75.1)"/>
<rect x="-7.7" y="-7.7" width="15.4" height="15.4" fill="#3a9a68" transform="translate(1352.5,1707.5) rotate(74.9)"/>
<rect x="-7.7" y="-7.7" width="15.4" height="15.4" fill="#3a9a68" transform="translate(1390.5,1730) rotate(76.3)"/>
<rect x="-7.7" y="-7.7" width="15.4" height="15.4" fill="#3a9a68" transform="translate(1429,1754) rotate(77.0)"/>
<rect x="-7.7" y="-7.7" width="15.4" height="15.4" fill="#3a9a68" transform="translate(1466.5,1777.5) rotate(76.4)"/>
<rect x="-7.7" y="-7.7" width="15.4" height="15.4" fill="#3a9a68" transform="translate(1504.5,1800) rotate(75.6)"/>
<path d="M0,-13.6 L11.8,6.8 L-11.8,6.8 Z" fill="#990099" transform="translate(216.5,1001) rotate(45.0)"/>
<path d="M0,-13.6 L11.8,6.8 L-11.8,6.8 Z" fill="#990099" transform="translate(252,1036.5) rotate(37.4)"/>
<path d="M0,-13.6 L11.8,6.8 L-11.8,6.8 Z" fill="#990099" transform="translate(292,1058.7) rotate(28.5)"/>
<path d="M0,-13.6 L11.8,6.8 L-11.8,6.8 Z" fill="#990099" transform="translate(334,1081) rotate(28.2)"/>
<path d="M0,-13.6 L11.8,6.8 L-11.8,6.8 Z" fill="#990099" transform="translate(378.4,1105) rotate(29.7)"/>
<path d="M0,-13.6 L11.8,6.8 L-11.8,6.8 Z" fill="#990099" transform="translate(420,1130) rotate(34.6)"/>
<path d="M0,-13.6 L11.8,6.8 L-11.8,6.8 Z" fill="#990099" transform="translate(459,1160.5) rotate(38.7)"/>
<path d="M0,-13.6 L11.8,6.8 L-11.8,6.8 Z" fill="#990099" transform="translate(497.5,1192) rotate(37.6)"/>
<path d="M0,-13.6 L11.8,6.8 L-11.8,6.8 Z" fill="#990099" transform="translate(537.5,1221) rotate(37.8)"/>
<path d="M0,-13.6 L11.8,6.8 L-11.8,6.8 Z" fill="#990099" transform="translate(576,1253) rotate(38.4)"/>
<path d="M0,-13.6 L11.8,6.8 L-11.8,6.8 Z" fill="#990099" transform="translate(615,1282.5) rotate(39.7)"/>
<path d="M0,-13.6 L11.8,6.8 L-11.8,6.8 Z" fill="#990099" transform="translate(652.5,1316.5) rotate(40.4)"/>
<path d="M0,-13.6 L11.8,6.8 L-11.8,6.8 Z" fill="#990099" transform="translate(691.5,1347.5) rotate(39.2)"/>
<path d="M0,-13.6 L11.8,6.8 L-11.8,6.8 Z" fill="#990099" transform="translate(729,1379) rotate(41.8)"/>
<path d="M0,-13.6 L11.8,6.8 L-11.8,6.8 Z" fill="#990099" transform="translate(766,1414) rotate(43.4)"/>
<path d="M0,-13.6 L11.8,6.8 L-11.8,6.8 Z" fill="#990099" transform="translate(801.5,1447.5) rotate(44.2)"/>
<path d="M0,-13.6 L11.8,6.8 L-11.8,6.8 Z" fill="#990099" transform="translate(837.5,1483.5) rotate(46.8)"/>
<path d="M0,-13.6 L11.8,6.8 L-11.8,6.8 Z" fill="#990099" transform="translate(870.6,1521) rotate(50.4)"/>
<path d="M0,-13.6 L11.8,6.8 L-11.8,6.8 Z" fill="#990099" transform="translate(901.6,1561) rotate(55.3)"/>
<path d="M0,-13.6 L11.8,6.8 L-11.8,6.8 Z" fill="#990099" transform="translate(928.2,1604.2) rotate(63.8)"/>
<path d="M0,-13.6 L11.8,6.8 L-11.8,6.8 Z" fill="#990099" transform="translate(944.9,1649) rotate(84.9)"/>
<path d="M0,-13.6 L11.8,6.8 L-11.8,6.8 Z" fill="#990099" transform="translate(936.4,1696.3) rotate(106.5)"/>
<path d="M0,-13.6 L11.8,6.8 L-11.8,6.8 Z" fill="#990099" transform="translate(916.7,1744) rotate(112.8)"/>
<path d="M0,-13.6 L11.8,6.8 L-11.8,6.8 Z" fill="#990099" transform="translate(897.2,1789.4) rotate(128.0)"/>
<ellipse cx="247.5" cy="1001" rx="9.8" ry="10.5" fill="#3300cc"/>
<ellipse cx="281" cy="1033" rx="9.8" ry="10.5" fill="#3300cc"/>
<ellipse cx="308.5" cy="1070.5" rx="9.8" ry="10.5" fill="#3300cc"/>
<ellipse cx="336" cy="1107" rx="9.8" ry="10.5" fill="#3300cc"/>
<ellipse cx="362.5" cy="1145" rx="9.8" ry="10.5" fill="#3300cc"/>
<ellipse cx="389.5" cy="1182.5" rx="9.8" ry="10.5" fill="#3300cc"/>
<ellipse cx="422.5" cy="1214" rx="9.8" ry="10.5" fill="#3300cc"/>
<ellipse cx="456" cy="1244" rx="9.8" ry="10.5" fill="#3300cc"/>
<ellipse cx="489.5" cy="1276" rx="9.8" ry="10.5" fill="#3300cc"/>
<ellipse cx="520" cy="1310" rx="9.8" ry="10.5" fill="#3300cc"/>
<ellipse cx="550" cy="1345" rx="9.8" ry="10.5" fill="#3300cc"/>
<ellipse cx="583.5" cy="1375" rx="9.8" ry="10.5" fill="#3300cc"/>
<ellipse cx="619" cy="1404" rx="9.8" ry="10.5" fill="#3300cc"/>
<ellipse cx="654" cy="1432.5" rx="9.8" ry="10.5" fill="#3300cc"/>
<ellipse cx="690" cy="1460.5" rx="9.8" ry="10.5" fill="#3300cc"/>
<ellipse cx="717.5" cy="1496" rx="9.8" ry="10.5" fill="#3300cc"/>
<ellipse cx="749" cy="1529.5" rx="9.8" ry="10.5" fill="#3300cc"/>
<ellipse cx="777.5" cy="1563.5" rx="9.8" ry="10.5" fill="#3300cc"/>
<ellipse cx="795" cy="1607.5" rx="9.8" ry="10.5" fill="#3300cc"/>
<ellipse cx="795" cy="1653.5" rx="9.8" ry="10.5" fill="#3300cc"/>
<ellipse cx="786.5" cy="1699" rx="9.8" ry="10.5" fill="#3300cc"/>
<ellipse cx="753.5" cy="1730" rx="9.8" ry="10.5" fill="#3300cc"/>
<ellipse cx="720" cy="1762.5" rx="9.8" ry="10.5" fill="#3300cc"/>
<ellipse cx="683" cy="1786.5" rx="9.8" ry="10.5" fill="#3300cc"/>
<ellipse cx="645" cy="1812.5" rx="9.8" ry="10.5" fill="#3300cc"/>
<rect x="-11" y="-11" width="22" height="22" fill="#009933" transform="translate(208,1000) rotate(37.1)"/>
<rect x="-11" y="-11" width="22" height="22" fill="#009933" transform="translate(244.7,1027.8) rotate(34.4)"/>
<rect x="-11" y="-11" width="22" height="22" fill="#009933" transform="translate(282.4,1051) rotate(30.9)"/>
<rect x="-11" y="-11" width="22" height="22" fill="#009933" transform="translate(324.5,1075.5) rotate(28.0)"/>
<rect x="-11" y="-11" width="22" height="22" fill="#009933" transform="translate(360.4,1092.5) rotate(26.3)"/>
<rect x="-11" y="-11" width="22" height="22" fill="#009933" transform="translate(401.4,1113.5) rotate(26.9)"/>
<rect x="-11" y="-11" width="22" height="22" fill="#009933" transform="translate(441.3,1133.5) rotate(29.6)"/>
<rect x="-11" y="-11" width="22" height="22" fill="#009933" transform="translate(479,1157.5) rotate(31.2)"/>
<rect x="-11" y="-11" width="22" height="22" fill="#009933" transform="translate(515.5,1178.5) rotate(27.3)"/>
<rect x="-11" y="-11" width="22" height="22" fill="#009933" transform="translate(555.5,1197) rotate(26.0)"/>
<rect x="-11" y="-11" width="22" height="22" fill="#009933" transform="translate(596.5,1218) rotate(28.7)"/>
<rect x="-11" y="-11" width="22" height="22" fill="#009933" transform="translate(634.0,1240) rotate(32.0)"/>
<rect x="-11" y="-11" width="22" height="22" fill="#009933" transform="translate(670,1264) rotate(34.4)"/>
<rect x="-11" y="-11" width="22" height="22" fill="#009933" transform="translate(707,1290) rotate(33.3)"/>
<rect x="-11" y="-11" width="22" height="22" fill="#009933" transform="translate(746,1314) rotate(29.7)"/>
<rect x="-11" y="-11" width="22" height="22" fill="#009933" transform="translate(785,1334.5) rotate(31.7)"/>
<rect x="-11" y="-11" width="22" height="22" fill="#009933" transform="translate(820.5,1360) rotate(34.6)"/>
<rect x="-11" y="-11" width="22" height="22" fill="#009933" transform="translate(857.5,1384.5) rotate(30.7)"/>
<rect x="-11" y="-11" width="22" height="22" fill="#009933" transform="translate(897,1405.5) rotate(27.7)"/>
<rect x="-11" y="-11" width="22" height="22" fill="#009933" transform="translate(935.5,1425.5) rotate(28.3)"/>
<rect x="-11" y="-11" width="22" height="22" fill="#009933" transform="translate(975,1447.5) rotate(29.5)"/>
<rect x="-11" y="-11" width="22" height="22" fill="#009933" transform="translate(1014,1470) rotate(30.0)"/>
<rect x="-11" y="-11" width="22" height="22" fill="#009933" transform="translate(1053,1492.5) rotate(30.5)"/>
<rect x="-11" y="-11" width="22" height="22" fill="#009933" transform="translate(1090.5,1515) rotate(32.9)"/>
<rect x="-11" y="-11" width="22" height="22" fill="#009933" transform="translate(1126.5,1540) rotate(36.5)"/>
<rect x="-11" y="-11" width="22" height="22" fill="#009933" transform="translate(1161.5,1567.5) rotate(36.2)"/>
<rect x="-11" y="-11" width="22" height="22" fill="#009933" transform="translate(1199,1593) rotate(33.1)"/>
<rect x="-11" y="-11" width="22" height="22" fill="#009933" transform="translate(1237.5,1617) rotate(33.6)"/>
<rect x="-11" y="-11" width="22" height="22" fill="#009933" transform="translate(1274.3,1643) rotate(34.4)"/>
<rect x="-11" y="-11" width="22" height="22" fill="#009933" transform="translate(1311.2,1667.5) rotate(31.9)"/>
<rect x="-11" y="-11" width="22" height="22" fill="#009933" transform="translate(1349.7,1690) rotate(30.4)"/>
<rect x="-11" y="-11" width="22" height="22" fill="#009933" transform="translate(1388,1712.5) rotate(30.5)"/>
<rect x="-11" y="-11" width="22" height="22" fill="#009933" transform="translate(1426.2,1735) rotate(31.4)"/>
<rect x="-11" y="-11" width="22" height="22" fill="#009933" transform="translate(1464.3,1759) rotate(32.5)"/>
<rect x="-11" y="-11" width="22" height="22" fill="#009933" transform="translate(1502.2,1783.5) rotate(34.4)"/>
<rect x="-11" y="-11" width="22" height="22" fill="#009933" transform="translate(1539.5,1810.5) rotate(35.9)"/>
<ellipse cx="189.0" cy="986.0" rx="9.8" ry="10.4" fill="#0b6dd6"/>
<ellipse cx="208.0" cy="997.6" rx="9.8" ry="10.4" fill="#0b6dd6"/>
<ellipse cx="227.0" cy="1009.3" rx="9.8" ry="10.4" fill="#0b6dd6"/>
<ellipse cx="246.0" cy="1020.9" rx="9.8" ry="10.4" fill="#0b6dd6"/>
<ellipse cx="265.2" cy="1032.3" rx="9.8" ry="10.4" fill="#0b6dd6"/>
<ellipse cx="284.6" cy="1043.3" rx="9.8" ry="10.4" fill="#0b6dd6"/>
<ellipse cx="304.2" cy="1053.8" rx="9.8" ry="10.4" fill="#0b6dd6"/>
<ellipse cx="324.1" cy="1063.9" rx="9.8" ry="10.4" fill="#0b6dd6"/>
<ellipse cx="344.1" cy="1073.8" rx="9.8" ry="10.4" fill="#0b6dd6"/>
<ellipse cx="364.0" cy="1083.7" rx="9.8" ry="10.4" fill="#0b6dd6"/>
<ellipse cx="383.8" cy="1093.9" rx="9.8" ry="10.4" fill="#0b6dd6"/>
<ellipse cx="403.4" cy="1104.5" rx="9.8" ry="10.4" fill="#0b6dd6"/>
<ellipse cx="422.9" cy="1115.4" rx="9.8" ry="10.4" fill="#0b6dd6"/>
<ellipse cx="442.3" cy="1126.4" rx="9.8" ry="10.4" fill="#0b6dd6"/>
<ellipse cx="461.8" cy="1137.1" rx="9.8" ry="10.4" fill="#0b6dd6"/>
<ellipse cx="481.5" cy="1147.5" rx="9.8" ry="10.4" fill="#0b6dd6"/>
<ellipse cx="501.5" cy="1157.4" rx="9.8" ry="10.4" fill="#0b6dd6"/>
<ellipse cx="521.6" cy="1167.0" rx="9.8" ry="10.4" fill="#0b6dd6"/>
<ellipse cx="541.8" cy="1176.4" rx="9.8" ry="10.4" fill="#0b6dd6"/>
<ellipse cx="562.1" cy="1185.7" rx="9.8" ry="10.4" fill="#0b6dd6"/>
<ellipse cx="582.4" cy="1194.9" rx="9.8" ry="10.4" fill="#0b6dd6"/>
<ellipse cx="602.7" cy="1204.0" rx="9.8" ry="10.4" fill="#0b6dd6"/>
<ellipse cx="623.1" cy="1212.9" rx="9.8" ry="10.4" fill="#0b6dd6"/>
<ellipse cx="643.6" cy="1221.8" rx="9.8" ry="10.4" fill="#0b6dd6"/>
<ellipse cx="663.9" cy="1230.9" rx="9.8" ry="10.4" fill="#0b6dd6"/>
<ellipse cx="684.1" cy="1240.3" rx="9.8" ry="10.4" fill="#0b6dd6"/>
<ellipse cx="704.1" cy="1250.1" rx="9.8" ry="10.4" fill="#0b6dd6"/>
<ellipse cx="724.0" cy="1260.2" rx="9.8" ry="10.4" fill="#0b6dd6"/>
<ellipse cx="743.8" cy="1270.5" rx="9.8" ry="10.4" fill="#0b6dd6"/>
<ellipse cx="763.5" cy="1280.9" rx="9.8" ry="10.4" fill="#0b6dd6"/>
<ellipse cx="783.2" cy="1291.4" rx="9.8" ry="10.4" fill="#0b6dd6"/>
<ellipse cx="802.7" cy="1302.1" rx="9.8" ry="10.4" fill="#0b6dd6"/>
<ellipse cx="822.1" cy="1313.0" rx="9.8" ry="10.4" fill="#0b6dd6"/>
<ellipse cx="841.5" cy="1324.0" rx="9.8" ry="10.4" fill="#0b6dd6"/>
<ellipse cx="861.0" cy="1334.9" rx="9.8" ry="10.4" fill="#0b6dd6"/>
<ellipse cx="880.7" cy="1345.3" rx="9.8" ry="10.4" fill="#0b6dd6"/>
<ellipse cx="900.6" cy="1355.2" rx="9.8" ry="10.4" fill="#0b6dd6"/>
<ellipse cx="920.8" cy="1364.7" rx="9.8" ry="10.4" fill="#0b6dd6"/>
<ellipse cx="941.0" cy="1374.1" rx="9.8" ry="10.4" fill="#0b6dd6"/>
<ellipse cx="961.2" cy="1383.6" rx="9.8" ry="10.4" fill="#0b6dd6"/>
<ellipse cx="981.1" cy="1393.6" rx="9.8" ry="10.4" fill="#0b6dd6"/>
<ellipse cx="1000.8" cy="1403.9" rx="9.8" ry="10.4" fill="#0b6dd6"/>
<ellipse cx="1020.4" cy="1414.5" rx="9.8" ry="10.4" fill="#0b6dd6"/>
<ellipse cx="1040.0" cy="1425.2" rx="9.8" ry="10.4" fill="#0b6dd6"/>
<ellipse cx="1059.5" cy="1435.9" rx="9.8" ry="10.4" fill="#0b6dd6"/>
<ellipse cx="1079.1" cy="1446.6" rx="9.8" ry="10.4" fill="#0b6dd6"/>
<ellipse cx="1098.7" cy="1457.2" rx="9.8" ry="10.4" fill="#0b6dd6"/>
<ellipse cx="1118.5" cy="1467.5" rx="9.8" ry="10.4" fill="#0b6dd6"/>
<ellipse cx="1138.2" cy="1477.8" rx="9.8" ry="10.4" fill="#0b6dd6"/>
<ellipse cx="1158.0" cy="1488.0" rx="9.8" ry="10.4" fill="#0b6dd6"/>
<ellipse cx="1177.8" cy="1498.3" rx="9.8" ry="10.4" fill="#0b6dd6"/>
<ellipse cx="1197.6" cy="1508.6" rx="9.8" ry="10.4" fill="#0b6dd6"/>
<ellipse cx="1217.3" cy="1519.0" rx="9.8" ry="10.4" fill="#0b6dd6"/>
<ellipse cx="1237.0" cy="1529.4" rx="9.8" ry="10.4" fill="#0b6dd6"/>
<ellipse cx="1256.7" cy="1539.8" rx="9.8" ry="10.4" fill="#0b6dd6"/>
<ellipse cx="1276.3" cy="1550.4" rx="9.8" ry="10.4" fill="#0b6dd6"/>
<ellipse cx="1295.9" cy="1561.0" rx="9.8" ry="10.4" fill="#0b6dd6"/>
<ellipse cx="1315.4" cy="1571.8" rx="9.8" ry="10.4" fill="#0b6dd6"/>
<ellipse cx="1335.0" cy="1582.5" rx="9.8" ry="10.4" fill="#0b6dd6"/>
<ellipse cx="1354.4" cy="1593.4" rx="9.8" ry="10.4" fill="#0b6dd6"/>
<ellipse cx="1373.7" cy="1604.5" rx="9.8" ry="10.4" fill="#0b6dd6"/>
<ellipse cx="1392.9" cy="1615.9" rx="9.8" ry="10.4" fill="#0b6dd6"/>
<ellipse cx="1411.9" cy="1627.6" rx="9.8" ry="10.4" fill="#0b6dd6"/>
<ellipse cx="1430.6" cy="1639.6" rx="9.8" ry="10.4" fill="#0b6dd6"/>
<ellipse cx="1449.3" cy="1651.8" rx="9.8" ry="10.4" fill="#0b6dd6"/>
<ellipse cx="1468.0" cy="1663.9" rx="9.8" ry="10.4" fill="#0b6dd6"/>
<ellipse cx="1486.8" cy="1675.8" rx="9.8" ry="10.4" fill="#0b6dd6"/>
<ellipse cx="1505.9" cy="1687.5" rx="9.8" ry="10.4" fill="#0b6dd6"/>
<ellipse cx="1525.0" cy="1698.9" rx="9.8" ry="10.4" fill="#0b6dd6"/>
<ellipse cx="1544.1" cy="1710.3" rx="9.8" ry="10.4" fill="#0b6dd6"/>
<ellipse cx="1563.2" cy="1721.9" rx="9.8" ry="10.4" fill="#0b6dd6"/>
<ellipse cx="1582.0" cy="1733.8" rx="9.8" ry="10.4" fill="#0b6dd6"/>
<ellipse cx="1600.6" cy="1746.1" rx="9.8" ry="10.4" fill="#0b6dd6"/>
<ellipse cx="1619.0" cy="1758.7" rx="9.8" ry="10.4" fill="#0b6dd6"/>
<ellipse cx="1637.2" cy="1771.5" rx="9.8" ry="10.4" fill="#0b6dd6"/>
<ellipse cx="1655.3" cy="1784.6" rx="9.8" ry="10.4" fill="#0b6dd6"/>
<ellipse cx="1672.9" cy="1798.2" rx="9.8" ry="10.4" fill="#0b6dd6"/>
<ellipse cx="1690.0" cy="1812.5" rx="9.8" ry="10.4" fill="#0b6dd6"/>
<path d="M169.75,1830.5 V985.5 H1790.7" fill="none" stroke="#000" stroke-width="10" stroke-linejoin="miter"/>
<rect x="165" y="1822" width="1626" height="9" fill="#000"/>
<rect x="167.8" y="992" width="2.6" height="830" fill="#777"/>
<rect x="1785.3" y="980.3" width="10.4" height="853" fill="#000"/>
<rect x="1785.3" y="979.5" width="379.5" height="10.2" fill="#000"/>
<rect x="1785.3" y="1824.8" width="379.5" height="9.7" fill="#000"/>
<rect x="2160.6" y="979.5" width="4.2" height="855" fill="#000"/>
<ellipse cx="189.0" cy="986.0" rx="9.8" ry="10.4" fill="#0b6dd6"/>
<text x="1953.2" y="1069.2" font-family='"Liberation Sans", sans-serif' font-size="44" font-weight="bold" font-style="normal" text-anchor="start" fill="#000" textLength="151.6" lengthAdjust="spacingAndGlyphs">x=-0.1m</text>
<text x="1953.2" y="1210.7" font-family='"Liberation Sans", sans-serif' font-size="44" font-weight="bold" font-style="normal" text-anchor="start" fill="#000" textLength="174.7" lengthAdjust="spacingAndGlyphs">x=-0.06m</text>
<text x="1953.2" y="1351.7" font-family='"Liberation Sans", sans-serif' font-size="44" font-weight="bold" font-style="normal" text-anchor="start" fill="#000" textLength="174.7" lengthAdjust="spacingAndGlyphs">x=-0.02m</text>
<text x="1953.2" y="1494.2" font-family='"Liberation Sans", sans-serif' font-size="44" font-weight="bold" font-style="normal" text-anchor="start" fill="#000" textLength="174.7" lengthAdjust="spacingAndGlyphs">x=-0.01m</text>
<text x="1953.2" y="1635.7" font-family='"Liberation Sans", sans-serif' font-size="44" font-weight="bold" font-style="normal" text-anchor="start" fill="#000" textLength="102" lengthAdjust="spacingAndGlyphs">x=0m</text>
<text x="1953.2" y="1777.2" font-family='"Liberation Sans", sans-serif' font-size="44" font-weight="bold" font-style="normal" text-anchor="start" fill="#000" textLength="161.8" lengthAdjust="spacingAndGlyphs">x=0.02m</text>
<path d="M1839,1053H1875.2M1878,1053H1887" stroke="#9400d3" stroke-width="4.4" fill="none"/>
<path d="M1896,1053H1915.6M1905.8,1041.6V1064" stroke="#9400d3" stroke-width="4.4" fill="none"/>
<path d="M1849.7,1194.4 L1860.5,1184.3 L1871.3,1194.4 L1860.5,1204.5 Z" fill="#3a9a68"/>
<rect x="1849.5" y="1326.0" width="22" height="19.6" fill="#009933"/>
<circle cx="1860.5" cy="1620" r="10" fill="#3300cc"/>
<path d="M1893.2,1194.4 L1904,1184.3 L1914.8,1194.4 L1904,1204.5 Z" fill="#3a9a68"/>
<rect x="1893" y="1326.0" width="22" height="19.6" fill="#009933"/>
<circle cx="1904" cy="1620" r="10" fill="#3300cc"/>
<path d="M1850,1488 L1862,1466 L1874,1488 Z" fill="#990099"/>
<path d="M1899,1488 L1914,1466 L1914,1488 Z" fill="#990099"/>
<ellipse cx="1838.8" cy="1761.6" rx="9.6" ry="10.8" fill="#0b6dd6"/>
<ellipse cx="1861" cy="1761.6" rx="9.6" ry="10.8" fill="#0b6dd6"/>
<ellipse cx="1883" cy="1761.6" rx="9.6" ry="10.8" fill="#0b6dd6"/>
<ellipse cx="1905.2" cy="1761.6" rx="9.6" ry="10.8" fill="#0b6dd6"/>
</g>
</svg></body></html>
